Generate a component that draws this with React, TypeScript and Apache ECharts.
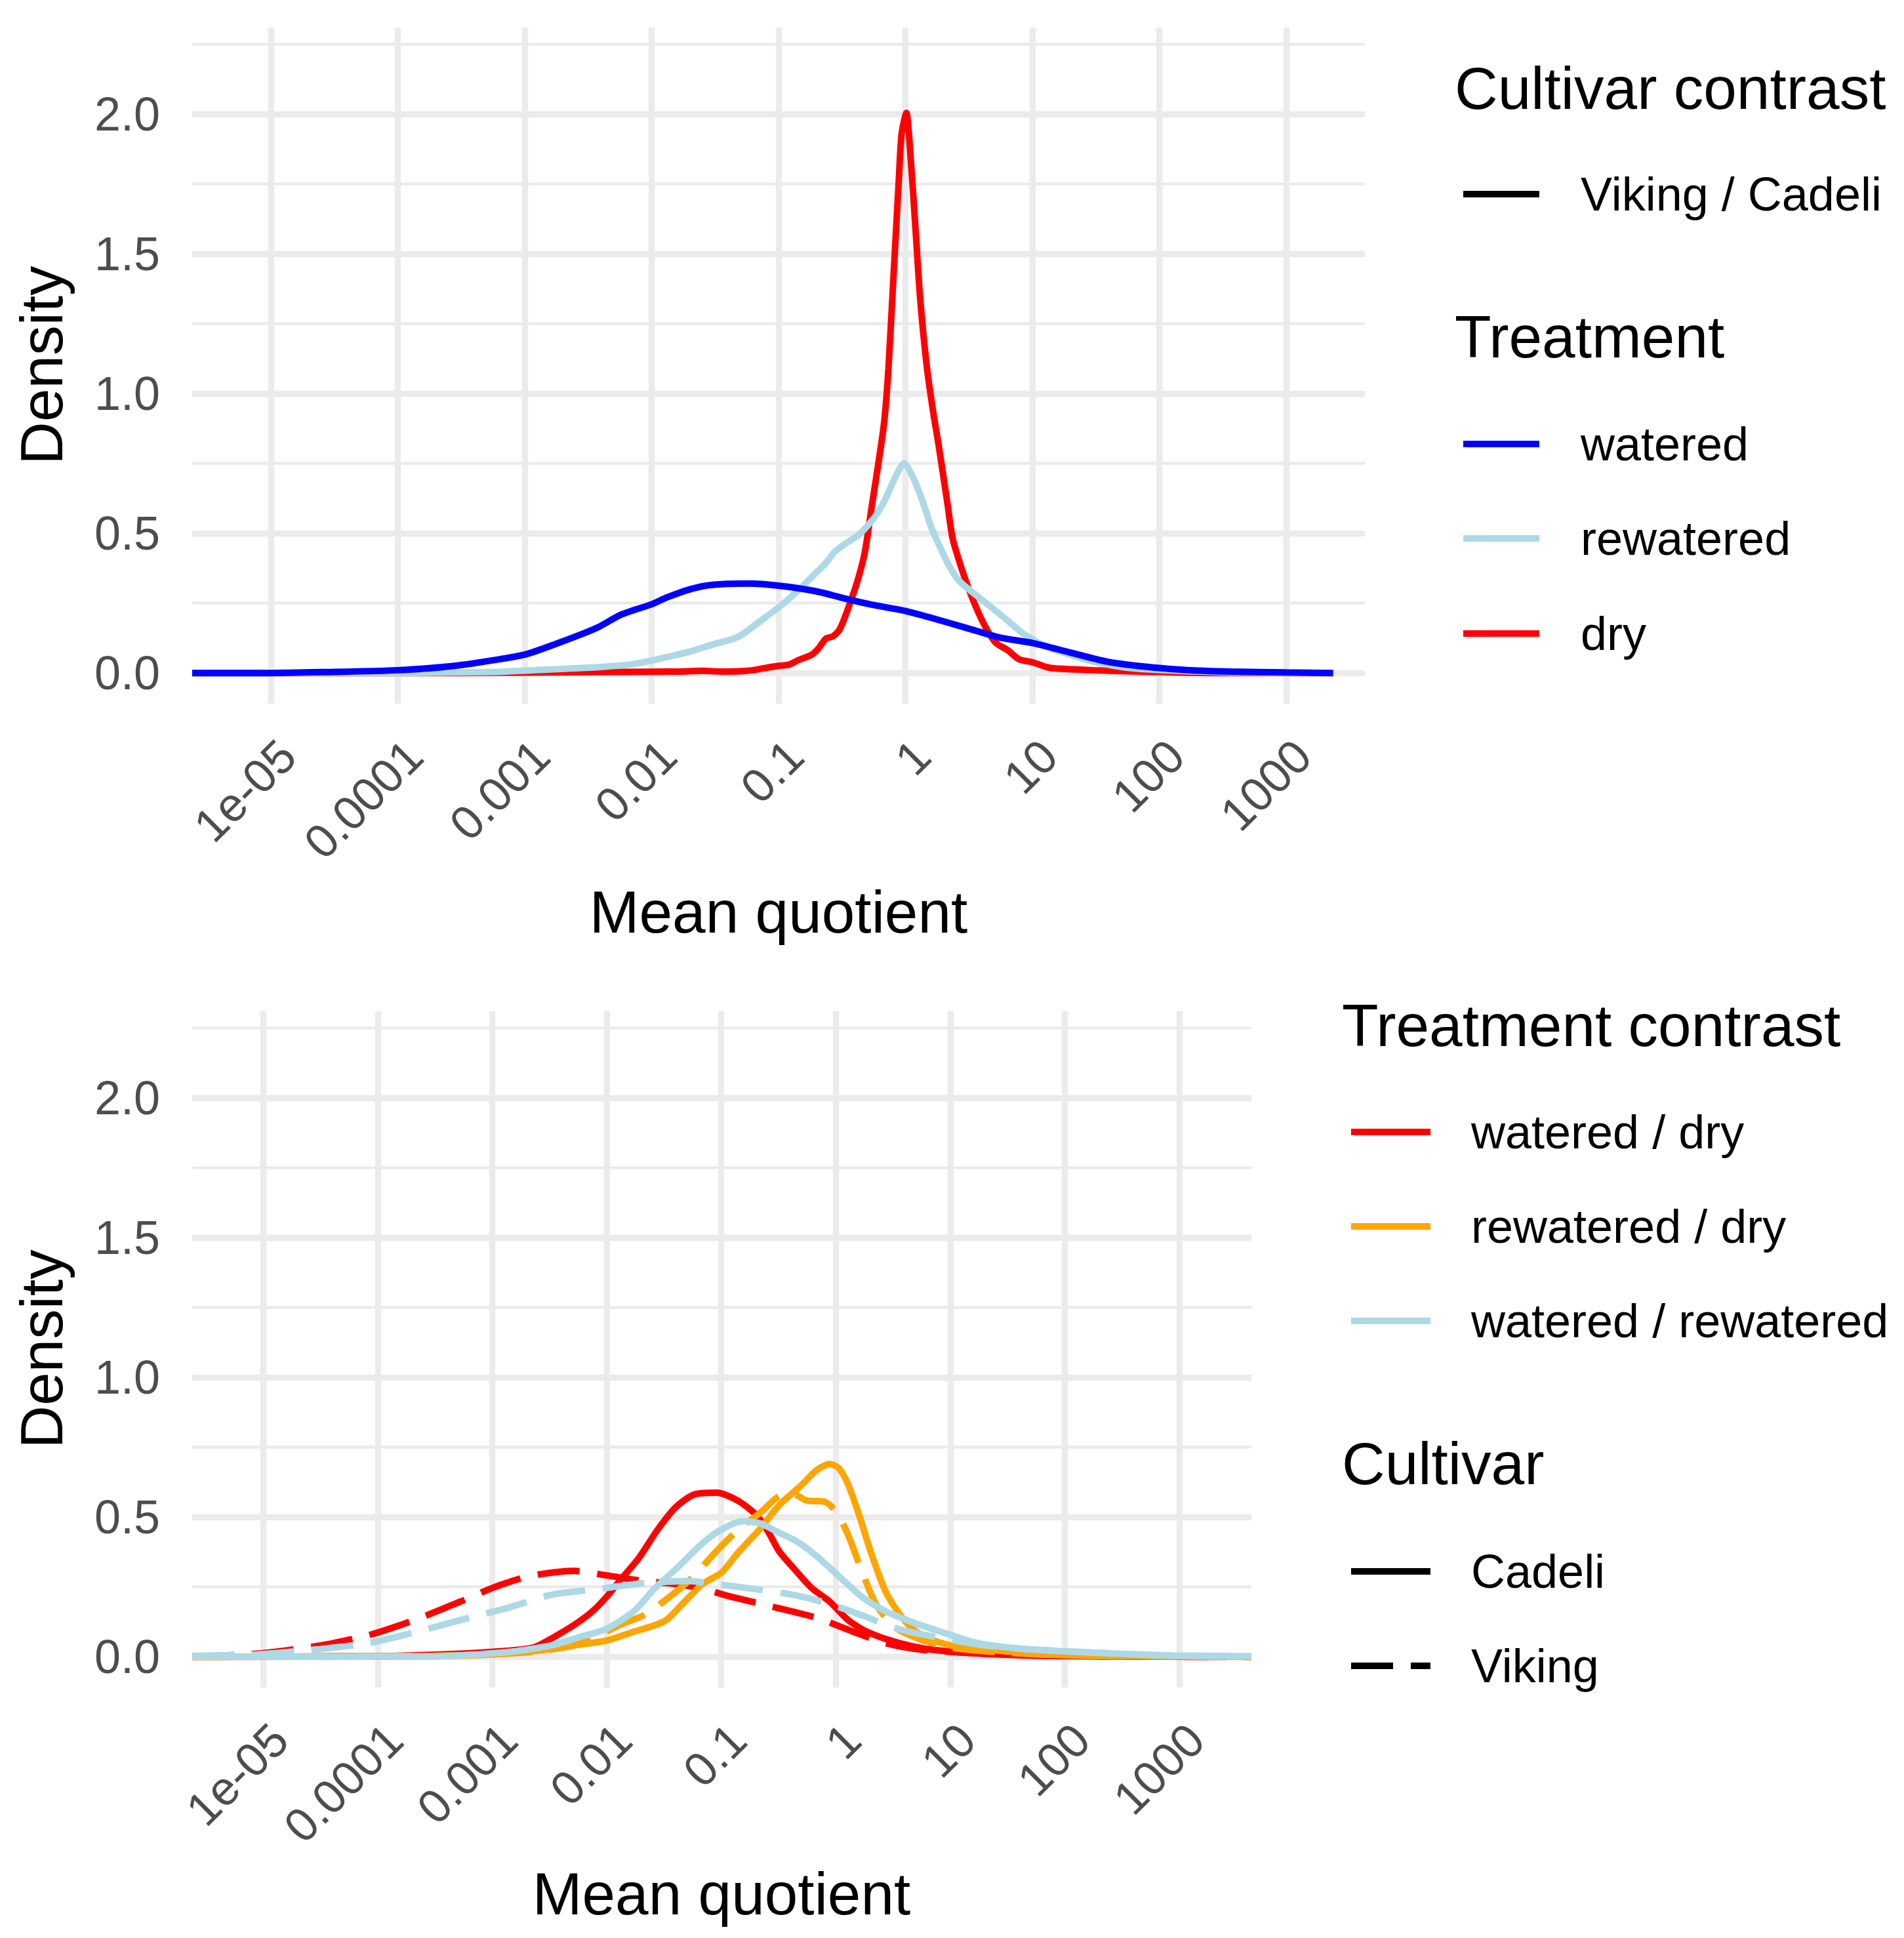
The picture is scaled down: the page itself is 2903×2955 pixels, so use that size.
import React, { useEffect, useRef } from 'react';
import * as echarts from 'echarts';

const FONT = '"Liberation Sans", Arial, Helvetica, sans-serif';

// Axis ticks (x in log10 of the mean quotient)
const X_TICKS = [-5, -4, -3, -2, -1, 0, 1, 2, 3];
const X_LABELS = ['1e-05', '0.0001', '0.001', '0.01', '0.1', '1', '10', '100', '1000'];
const Y_TICKS = [0, 0.5, 1, 1.5, 2];
const Y_LABELS = ['0.0', '0.5', '1.0', '1.5', '2.0'];
const Y_MINOR = [0.25, 0.75, 1.25, 1.75, 2.25];

// ---------- Top panel: Viking / Cadeli by treatment ----------
const DRY_X = [-5.62, -3.5, -2.78, -2.2, -1.8, -1.6, -1.45, -1.3, -1.2, -1.13, -1.007, -0.917, -0.844, -0.736, -0.681, -0.627, -0.572, -0.518, -0.446, -0.373, -0.319, -0.264, -0.21, -0.167, -0.134, -0.094, -0.054, -0.03, 0.007, 0.043, 0.08, 0.116, 0.17, 0.22, 0.26, 0.3, 0.333, 0.37, 0.424, 0.496, 0.569, 0.641, 0.714, 0.804, 0.895, 1.004, 1.112, 1.185, 1.475, 1.837, 2.38, 3.36];
const DRY_Y = [0, 0, 0.002, 0.004, 0.005, 0.008, 0.005, 0.006, 0.01, 0.016, 0.025, 0.03, 0.046, 0.066, 0.09, 0.123, 0.131, 0.156, 0.238, 0.337, 0.435, 0.6, 0.76, 0.9, 1.09, 1.42, 1.75, 1.93, 2.004, 1.83, 1.585, 1.34, 1.09, 0.93, 0.82, 0.7, 0.6, 0.485, 0.4, 0.304, 0.222, 0.156, 0.107, 0.082, 0.049, 0.038, 0.021, 0.016, 0.01, 0.005, 0, 0];

const REWATERED_X = [-5.62, -4.0, -3.5, -3.15, -2.785, -2.42, -2.13, -1.91, -1.695, -1.496, -1.351, -1.279, -1.134, -0.989, -0.844, -0.717, -0.627, -0.554, -0.482, -0.373, -0.3, -0.228, -0.156, -0.083, -0.011, 0.062, 0.134, 0.207, 0.279, 0.351, 0.424, 0.533, 0.678, 0.822, 0.931, 1.112, 1.293, 1.475, 1.656, 1.837, 2.2, 2.56, 3.0, 3.36];
const REWATERED_Y = [0, 0, 0.002, 0.005, 0.013, 0.021, 0.033, 0.054, 0.077, 0.105, 0.123, 0.14, 0.189, 0.238, 0.296, 0.353, 0.394, 0.435, 0.46, 0.493, 0.526, 0.567, 0.624, 0.698, 0.751, 0.698, 0.616, 0.517, 0.444, 0.378, 0.329, 0.287, 0.235, 0.181, 0.14, 0.094, 0.066, 0.041, 0.025, 0.015, 0.007, 0.002, 0, 0];

const WATERED_X = [-5.62, -5.0, -4.6, -4.0, -3.51, -3.0, -2.785, -2.567, -2.42, -2.24, -2.0, -1.876, -1.695, -1.533, -1.243, -0.989, -0.7, -0.446, -0.228, 0, 0.207, 0.496, 0.75, 1.004, 1.293, 1.583, 1.837, 2.2, 2.56, 3.0, 3.37];
const WATERED_Y = [0, 0, 0.003, 0.01, 0.028, 0.066, 0.099, 0.136, 0.164, 0.209, 0.246, 0.271, 0.3, 0.315, 0.32, 0.312, 0.292, 0.263, 0.241, 0.222, 0.197, 0.159, 0.126, 0.107, 0.074, 0.041, 0.025, 0.011, 0.005, 0.002, 0];

// ---------- Bottom panel: treatment contrasts by cultivar ----------
const WD_CADELI_X = [-5.62, -4.0, -3.28, -2.88, -2.64, -2.48, -2.28, -2.12, -2.0, -1.88, -1.72, -1.56, -1.4, -1.24, -1.04, -0.858, -0.697, -0.596, -0.495, -0.375, -0.213, -0.052, 0.109, 0.27, 0.511, 0.793, 1.236, 1.84, 2.44, 3.25];
const WD_CADELI_Y = [0, 0.002, 0.011, 0.021, 0.033, 0.066, 0.115, 0.164, 0.215, 0.275, 0.353, 0.452, 0.534, 0.58, 0.587, 0.559, 0.509, 0.452, 0.378, 0.32, 0.247, 0.197, 0.131, 0.09, 0.054, 0.028, 0.012, 0.003, 0.001, 0];

const WD_VIKING_X = [-5.62, -5.05, -4.49, -4.08, -3.68, -3.28, -3.0, -2.68, -2.28, -2.0, -1.68, -1.46, -1.18, -0.98, -0.656, -0.173, 0.149, 0.43, 0.753, 1.236, 2.04, 3.0, 3.63];
const WD_VIKING_Y = [0, 0.011, 0.041, 0.077, 0.131, 0.197, 0.246, 0.288, 0.307, 0.291, 0.271, 0.263, 0.246, 0.222, 0.189, 0.14, 0.09, 0.049, 0.025, 0.012, 0.003, 0, 0];

const RD_CADELI_X = [-5.62, -3.5, -2.88, -2.48, -2.28, -2.0, -1.76, -1.6, -1.48, -1.32, -1.26, -1.16, -1.0, -0.858, -0.656, -0.495, -0.294, -0.173, -0.052, 0.028, 0.109, 0.209, 0.31, 0.43, 0.552, 0.673, 0.834, 1.035, 1.44, 1.84, 2.44, 3.63];
const RD_CADELI_Y = [0, 0.002, 0.011, 0.028, 0.041, 0.058, 0.09, 0.11, 0.131, 0.197, 0.222, 0.262, 0.3, 0.37, 0.46, 0.542, 0.616, 0.666, 0.69, 0.674, 0.616, 0.501, 0.37, 0.238, 0.156, 0.099, 0.061, 0.038, 0.021, 0.008, 0.002, 0];

const RD_VIKING_X = [-5.62, -3.5, -2.68, -2.28, -2.08, -1.88, -1.68, -1.48, -1.24, -1.06, -0.858, -0.656, -0.495, -0.375, -0.254, -0.093, 0.008, 0.109, 0.23, 0.35, 0.511, 0.713, 0.995, 1.44, 2.04, 3.63];
const RD_VIKING_Y = [0, 0.003, 0.016, 0.041, 0.074, 0.115, 0.148, 0.205, 0.288, 0.37, 0.452, 0.517, 0.575, 0.583, 0.559, 0.554, 0.517, 0.435, 0.304, 0.189, 0.107, 0.066, 0.033, 0.016, 0.005, 0];

const WR_CADELI_X = [-5.62, -3.5, -2.88, -2.48, -2.24, -2.0, -1.76, -1.58, -1.38, -1.18, -1.02, -0.818, -0.656, -0.495, -0.334, -0.173, 0.028, 0.23, 0.43, 0.673, 0.914, 1.236, 1.64, 2.24, 2.85, 3.63];
const WR_CADELI_Y = [0, 0.002, 0.016, 0.041, 0.07, 0.1, 0.164, 0.245, 0.32, 0.4, 0.45, 0.485, 0.477, 0.444, 0.411, 0.362, 0.288, 0.214, 0.164, 0.123, 0.09, 0.049, 0.028, 0.015, 0.005, 0.002];

const WR_VIKING_X = [-5.62, -5.05, -4.49, -4.08, -3.68, -3.28, -2.88, -2.48, -2.08, -1.68, -1.28, -1.1, -0.777, -0.375, -0.052, 0.23, 0.552, 0.834, 1.236, 1.64, 2.24, 2.85, 3.63];
const WR_VIKING_Y = [0.003, 0.008, 0.028, 0.049, 0.087, 0.131, 0.173, 0.222, 0.242, 0.263, 0.271, 0.263, 0.246, 0.222, 0.189, 0.148, 0.099, 0.074, 0.044, 0.028, 0.015, 0.005, 0.002];

const TOP_LEGEND_CONTRAST = ['Viking / Cadeli'];
const TOP_LEGEND_TREATMENT = ['watered', 'rewatered', 'dry'];
const BOTTOM_LEGEND_CONTRAST = ['watered / dry', 'rewatered / dry', 'watered / rewatered'];
const BOTTOM_LEGEND_CULTIVAR = ['Cadeli', 'Viking'];

const COL_WATERED = '#0000FF';
const COL_REWATERED = '#ADD8E6';
const COL_DRY = '#FF0000';
const COL_ORANGE = '#FFA500';
const GRID_COL = '#EBEBEB';
const LW = 10;
const DASH = [64, 27];

const zip = (xs: number[], ys: number[]) => xs.map((x, i) => [x, ys[i]]);

function xAxisFor(gridIndex: number, min: number, max: number) {
  return {
    type: 'value',
    gridIndex,
    min,
    max,
    axisLine: { show: false },
    axisTick: { show: false, customValues: X_TICKS },
    axisLabel: {
      customValues: X_TICKS,
      rotate: 45,
      align: 'right',
      verticalAlign: 'top',
      margin: 42,
      fontSize: 72,
      fontFamily: FONT,
      color: '#4D4D4D',
      formatter: (v: number) => {
        const i = X_TICKS.indexOf(Math.round(v));
        return i >= 0 ? X_LABELS[i] : '';
      },
    },
    splitLine: { show: true, lineStyle: { color: GRID_COL, width: 9.3 } },
  };
}

function yAxisMajor(gridIndex: number) {
  return {
    type: 'value',
    gridIndex,
    min: -0.11,
    max: 2.31,
    axisLine: { show: false },
    axisTick: { show: false, customValues: Y_TICKS },
    axisLabel: {
      customValues: Y_TICKS,
      margin: 49,
      fontSize: 72,
      fontFamily: FONT,
      color: '#4D4D4D',
      formatter: (v: number) => {
        const i = Y_TICKS.findIndex((t) => Math.abs(t - v) < 1e-6);
        return i >= 0 ? Y_LABELS[i] : '';
      },
    },
    splitLine: { show: true, lineStyle: { color: GRID_COL, width: 9.3 } },
  };
}

function yAxisMinor(gridIndex: number) {
  return {
    type: 'value',
    gridIndex,
    position: 'left',
    min: -0.11,
    max: 2.31,
    axisLine: { show: false },
    axisTick: { show: false, customValues: Y_MINOR },
    axisLabel: { show: false, customValues: Y_MINOR },
    splitLine: { show: true, lineStyle: { color: GRID_COL, width: 4.7 } },
  };
}

function lineSeries(name: string, data: number[][], xi: number, yi: number, color: string, dashed: boolean) {
  return {
    name,
    type: 'line',
    xAxisIndex: xi,
    yAxisIndex: yi,
    data,
    showSymbol: false,
    symbol: 'none',
    smooth: 0.25,
    lineStyle: { color, width: LW, type: dashed ? DASH : 'solid', cap: 'butt' },
    itemStyle: { color },
    z: 3,
  };
}

function text(x: number, y: number, str: string, size: number, opts: any = {}) {
  return {
    type: 'text',
    x,
    y,
    rotation: opts.rotation || 0,
    silent: true,
    style: {
      text: str,
      font: `${size}px ${FONT}`,
      fill: opts.fill || '#000000',
      textAlign: opts.align || 'left',
      textVerticalAlign: 'middle',
    },
  };
}

function key(x1: number, x2: number, y: number, color: string, dashed = false) {
  return {
    type: 'line',
    silent: true,
    shape: { x1, y1: y, x2, y2: y },
    style: { stroke: color, lineWidth: LW, lineDash: dashed ? DASH : null, lineCap: 'butt' },
  };
}

export default function App() {
  const ref = useRef<HTMLDivElement>(null);

  useEffect(() => {
    if (!ref.current) return;
    const chart = echarts.init(ref.current, undefined, { renderer: 'svg' });

    const TITLE = 91;
    const LAB = 72;
    const topColors = [COL_WATERED, COL_REWATERED, COL_DRY];
    const topKeyY = [677, 821, 966];
    const botColors = [COL_DRY, COL_ORANGE, COL_REWATERED];
    const botKeyY = [1726, 1870, 2014];
    const cultKeyY = [2396, 2540];

    const graphic: any[] = [
      // axis titles
      text(63, 557, 'Density', TITLE, { rotation: Math.PI / 2, align: 'center' }),
      text(63, 2057, 'Density', TITLE, { rotation: Math.PI / 2, align: 'center' }),
      text(1187, 1390, 'Mean quotient', TITLE, { align: 'center' }),
      text(1100, 2887, 'Mean quotient', TITLE, { align: 'center' }),
      // top legend
      text(2218, 134, 'Cultivar contrast', TITLE),
      key(2231, 2347, 296, '#000000'),
      text(2410, 296, TOP_LEGEND_CONTRAST[0], LAB),
      text(2218, 513, 'Treatment', TITLE),
      ...TOP_LEGEND_TREATMENT.flatMap((lab, i) => [
        key(2231, 2347, topKeyY[i], topColors[i]),
        text(2410, topKeyY[i], lab, LAB),
      ]),
      // bottom legend
      text(2046, 1563, 'Treatment contrast', TITLE),
      ...BOTTOM_LEGEND_CONTRAST.flatMap((lab, i) => [
        key(2060, 2181, botKeyY[i], botColors[i]),
        text(2243, botKeyY[i], lab, LAB),
      ]),
      text(2046, 2231, 'Cultivar', TITLE),
      ...BOTTOM_LEGEND_CULTIVAR.flatMap((lab, i) => [
        key(2060, 2181, cultKeyY[i], '#000000', i === 1),
        text(2243, cultKeyY[i], lab, LAB),
      ]),
    ];

    const option: any = {
      animation: false,
      backgroundColor: '#ffffff',
      textStyle: { fontFamily: FONT },
      grid: [
        { left: 293, top: 42, width: 1788, height: 1031, containLabel: false, outerBoundsMode: 'none' },
        { left: 293, top: 1542, width: 1615, height: 1031, containLabel: false, outerBoundsMode: 'none' },
      ],
      xAxis: [xAxisFor(0, -5.62, 3.62), xAxisFor(1, -5.62, 3.63)],
      yAxis: [yAxisMajor(0), yAxisMinor(0), yAxisMajor(1), yAxisMinor(1)],
      series: [
        lineSeries('dry', zip(DRY_X, DRY_Y), 0, 0, COL_DRY, false),
        lineSeries('rewatered', zip(REWATERED_X, REWATERED_Y), 0, 0, COL_REWATERED, false),
        lineSeries('watered', zip(WATERED_X, WATERED_Y), 0, 0, COL_WATERED, false),
        lineSeries('watered / dry - Cadeli', zip(WD_CADELI_X, WD_CADELI_Y), 1, 2, COL_DRY, false),
        lineSeries('watered / dry - Viking', zip(WD_VIKING_X, WD_VIKING_Y), 1, 2, COL_DRY, true),
        lineSeries('rewatered / dry - Cadeli', zip(RD_CADELI_X, RD_CADELI_Y), 1, 2, COL_ORANGE, false),
        lineSeries('rewatered / dry - Viking', zip(RD_VIKING_X, RD_VIKING_Y), 1, 2, COL_ORANGE, true),
        lineSeries('watered / rewatered - Cadeli', zip(WR_CADELI_X, WR_CADELI_Y), 1, 2, COL_REWATERED, false),
        lineSeries('watered / rewatered - Viking', zip(WR_VIKING_X, WR_VIKING_Y), 1, 2, COL_REWATERED, true),
      ],
      graphic,
    };

    chart.setOption(option);
    return () => chart.dispose();
  }, []);

  return (
    <div
      ref={ref}
      style={{ position: 'absolute', left: 0, top: 0, width: 2903, height: 2955, background: '#ffffff' }}
    />
  );
}
